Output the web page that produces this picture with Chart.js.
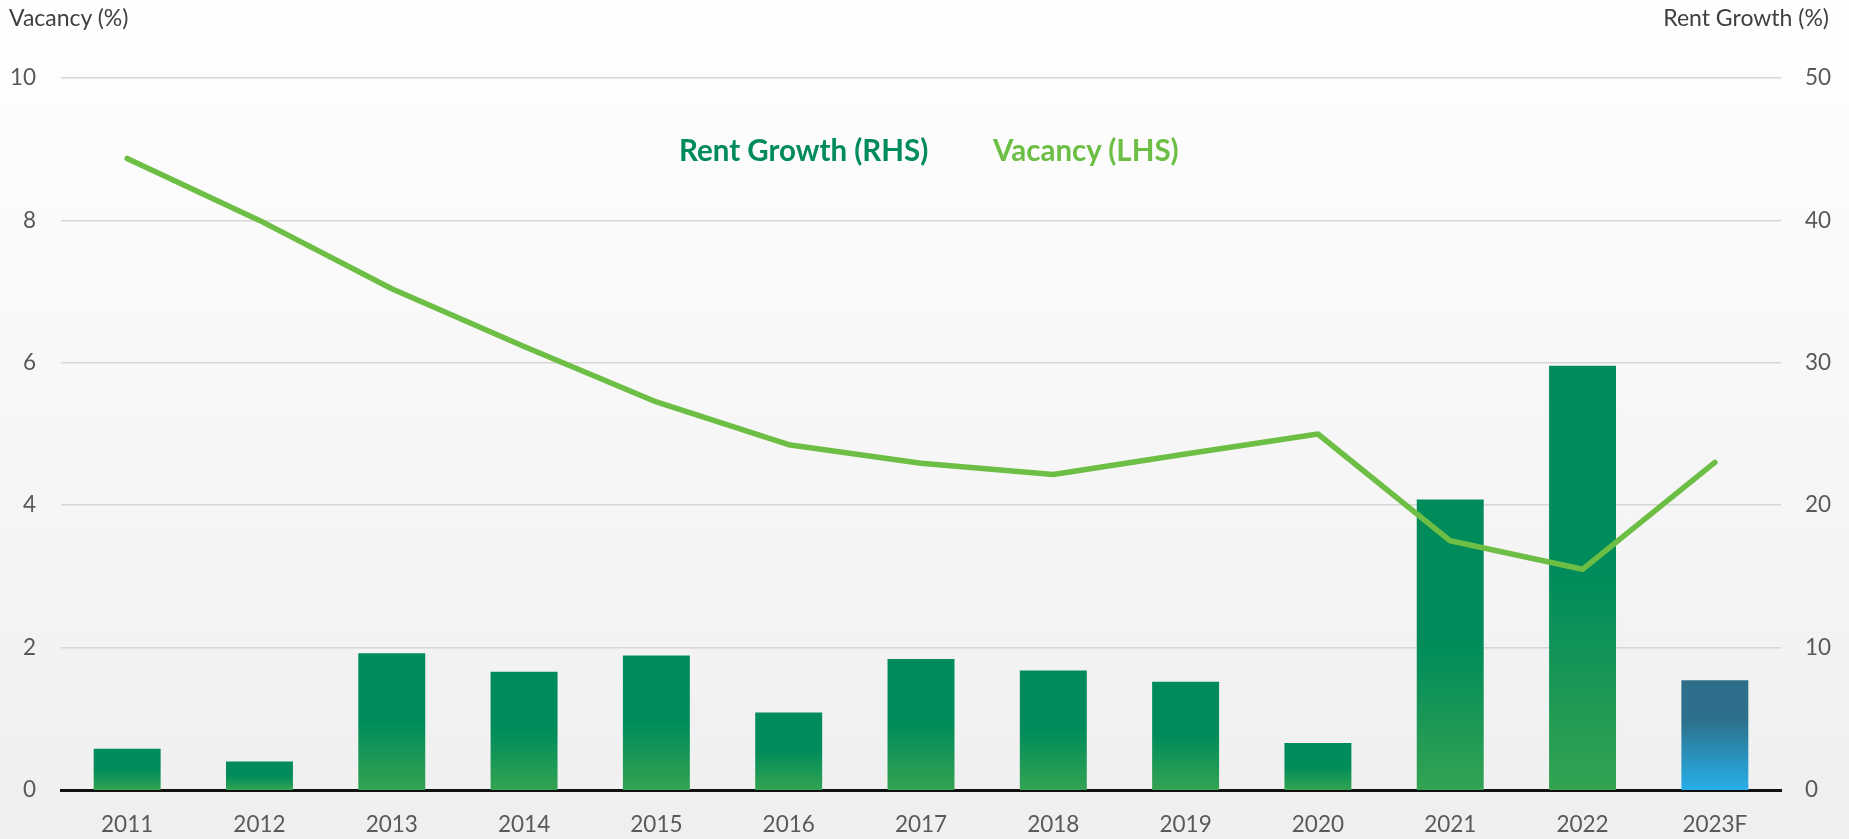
<!DOCTYPE html>
<html>
<head>
<meta charset="utf-8">
<script src="https://cdn.jsdelivr.net/npm/chart.js@4.4.1/dist/chart.umd.min.js"></script>
<style>
  html, body { margin: 0; padding: 0; }
  body {
    width: 1849px; height: 839px; overflow: hidden;
    background: linear-gradient(#ffffff, #efefef);
    font-family: Lato, "Open Sans", sans-serif;
  }
  #wrap { position: relative; width: 1849px; height: 839px; }
  .axis-title { position: absolute; top: 3px; font-size: 23px; color: #404040; }
  .legend { position: absolute; top: 132px; font-size: 29.5px; font-weight: bold; white-space: nowrap; }
</style>
</head>
<body>
<div id="wrap">
  <canvas id="rent-chart" width="1849" height="839"></canvas>
  <div class="axis-title" style="left:9px;">Vacancy (%)</div>
  <div class="axis-title" style="right:20px;">Rent Growth (%)</div>
  <div class="legend" style="left:679px; color:#008c5a;">Rent Growth (RHS)</div>
  <div class="legend" style="left:993px; color:#6dbe45;">Vacancy (LHS)</div>
</div>
<script>
var years = ["2011", "2012", "2013", "2014", "2015", "2016", "2017", "2018", "2019", "2020", "2021", "2022", "2023F"];
var rentGrowth = [2.9, 2.0, 9.6, 8.3, 9.45, 5.45, 9.2, 8.4, 7.6, 3.3, 20.4, 29.8, 7.7];
var vacancy = [8.87, 8.0, 7.04, 6.23, 5.45, 4.85, 4.59, 4.43, 4.72, 5.0, 3.5, 3.1, 4.6];
var vacancyTicks = [0, 2, 4, 6, 8, 10];
var rentTicks = [0, 10, 20, 30, 40, 50];

// each bar gets its own top-to-base gradient
function barFill(c) {
    var chart = c.chart;
    if (!chart.chartArea || c.raw === undefined) return '#008c5a';
    var s = chart.scales.y2;
    var top = s.getPixelForValue(c.raw);
    var base = s.getPixelForValue(0);
    var g = chart.ctx.createLinearGradient(0, top, 0, base);
    if (years[c.dataIndex].slice(-1) === 'F') {
        g.addColorStop(0, '#2d6f8a');
        g.addColorStop(0.35, '#2d6f8a');
        g.addColorStop(1, '#28afe8');
    } else {
        g.addColorStop(0, '#008c5a');
        g.addColorStop(0.5, '#008c5a');
        g.addColorStop(1, '#33a352');
    }
    return g;
}

var tickFont = { family: 'Lato', size: 22.5 };

var ctx = document.getElementById("rent-chart").getContext('2d');
var myChart = new Chart(ctx, {
    type: 'bar',
    data: {
        labels: years,
        datasets: [{
            type: 'line',
            label: 'Vacancy (LHS)',
            data: vacancy,
            yAxisID: 'y',
            borderColor: '#6dbe45',
            borderWidth: 5.5,
            pointRadius: 0,
            tension: 0,
            borderJoinStyle: 'round',
            borderCapStyle: 'round',
            order: 0
        }, {
            label: 'Rent Growth (RHS)',
            data: rentGrowth,
            yAxisID: 'y2',
            backgroundColor: barFill,
            categoryPercentage: 1,
            barPercentage: 0.506,
            order: 1
        }]
    },
    options: {
        responsive: false,
        animation: false,
        layout: { padding: { top: 78, bottom: 0, left: 0, right: 0 } },
        plugins: {
            legend: { display: false },
            tooltip: { enabled: false }
        },
        scales: {
            x: {
                grid: { display: false, drawTicks: false },
                border: { display: true, color: '#111111', width: 3 },
                ticks: { font: tickFont, color: '#595959', padding: 21 },
                afterFit: function(scale) { scale.height = 49; }
            },
            y: {
                position: 'left',
                min: 0, max: 10,
                afterBuildTicks: function(scale) { scale.ticks = vacancyTicks.map(function(v) { return { value: v }; }); },
                grid: { color: '#d6d6d6', lineWidth: 1.5, drawTicks: false },
                border: { display: false },
                ticks: { font: tickFont, color: '#595959', padding: 25 },
                afterFit: function(scale) { scale.width = 61; }
            },
            y2: {
                position: 'right',
                min: 0, max: 50,
                afterBuildTicks: function(scale) { scale.ticks = rentTicks.map(function(v) { return { value: v }; }); },
                grid: { display: false, drawTicks: false },
                border: { display: false },
                ticks: { font: tickFont, color: '#595959', padding: 24 },
                afterFit: function(scale) { scale.width = 68; }
            }
        }
    }
});
</script>
</body>
</html>
